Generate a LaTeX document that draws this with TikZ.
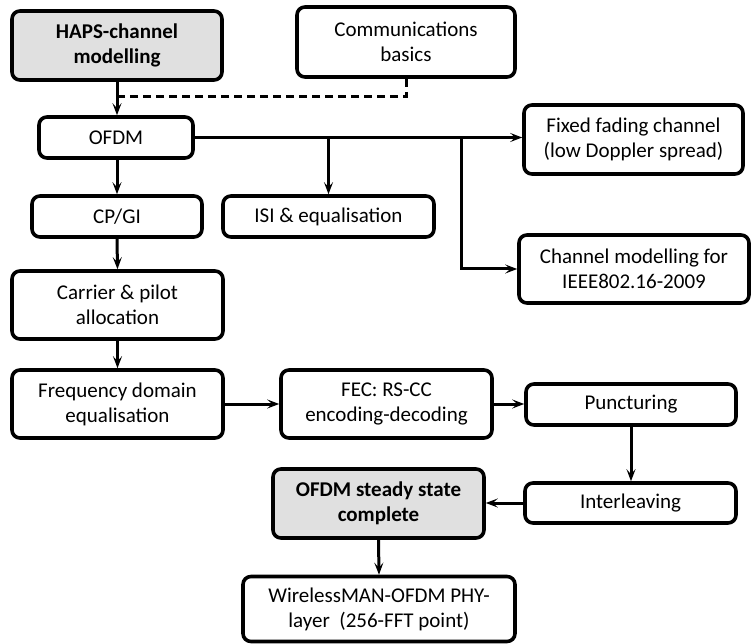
\documentclass[tikz,border=0pt]{standalone}
\usepackage{fontspec}
\setmainfont{Carlito}
\usetikzlibrary{arrows.meta}
\definecolor{boxgray}{HTML}{E0E0E0}
\tikzset{
  box/.style={draw, line width=3.6pt, rounded corners=8pt, align=center,
    font=\fontsize{21}{25}\selectfont, inner sep=2pt},
  keybox/.style={box, fill=boxgray, font=\fontsize{21}{25}\selectfont\bfseries},
  link/.style={line width=3pt, -{Stealth[length=12pt,width=9pt,inset=5pt]}},
  feed/.style={line width=3pt, dash pattern=on 8pt off 5pt}
}
\begin{document}
\begin{tikzpicture}[x=1pt,y=-1pt]
\useasboundingbox (0,0) rectangle (752,644);

\node[keybox, minimum width=210pt, minimum height=69pt] (haps) at (117,45.5) {HAPS-channel\\modelling};
\node[box, minimum width=218pt, minimum height=70pt] (comms) at (406,42) {Communications\\basics};
\node[box, minimum width=154pt, minimum height=41pt] (ofdm) at (116,137.5) {OFDM};
\node[box, minimum width=219pt, minimum height=69pt] (fixed) at (633.5,139.5) {Fixed fading channel\\(low Doppler spread)};
\node[box, minimum width=230pt, minimum height=68pt] (chan) at (634,269) {Channel modelling for\\IEEE802.16-2009};
\node[box, minimum width=170pt, minimum height=41pt] (cpgi) at (117,216.5) {CP/GI};
\node[box, minimum width=211pt, minimum height=41pt] (isi) at (328.5,216.5) {ISI \& equalisation};
\node[box, minimum width=211pt, minimum height=68pt] (carrier) at (117.5,305) {Carrier \& pilot\\allocation};
\node[box, minimum width=211pt, minimum height=68pt] (freq) at (117.5,404) {Frequency domain\\equalisation};
\node[box, minimum width=211pt, minimum height=68pt] (fec) at (386.5,404) {FEC: RS-CC\\encoding-decoding};
\node[box, minimum width=210pt, minimum height=41pt] (punct) at (631,404.5) {Puncturing};
\node[box, minimum width=211pt, minimum height=40pt] (inter) at (630.5,503) {Interleaving};
\node[keybox, minimum width=211pt, minimum height=69pt] (steady) at (378.5,503.5) {OFDM steady state\\complete};
\node[box, minimum width=272pt, minimum height=65pt] (wman) at (379,609) {WirelessMAN-OFDM PHY-\\layer\ \ (256-FFT point)};

% junctions on the feed lines
\coordinate (join) at (haps.south |- 0,97);
\coordinate (split) at (461,137.5);

% inputs to OFDM
\draw[feed] (comms.south) |- (join);
\draw[link] (haps.south) -- (haps.south |- ofdm.north);

% OFDM fan-out
\draw[link, line width=2.4pt] (ofdm.east) -- (ofdm.east -| fixed.west);
\draw[line width=3.2pt] (357,137.5) -- (split);
\draw[link] (ofdm.east -| isi.north) -- (isi.north);
\draw[link] (split) |- (chan.west);

% processing chain
\draw[link] (ofdm.south -| cpgi.north) -- (cpgi.north);
\draw[link] (cpgi.south) -- (carrier.north);
\draw[link] (carrier.south) -- (freq.north);
\draw[link] (freq.east) -- (fec.west);
\draw[link] (fec.east) -- (fec.east -| punct.west);
\draw[link] (punct.south) -- (punct.south |- inter.north);
\draw[link] (inter.west) -- (inter.west -| steady.east);
\draw[link] (steady.south) -- (wman.north);
\end{tikzpicture}
\end{document}
